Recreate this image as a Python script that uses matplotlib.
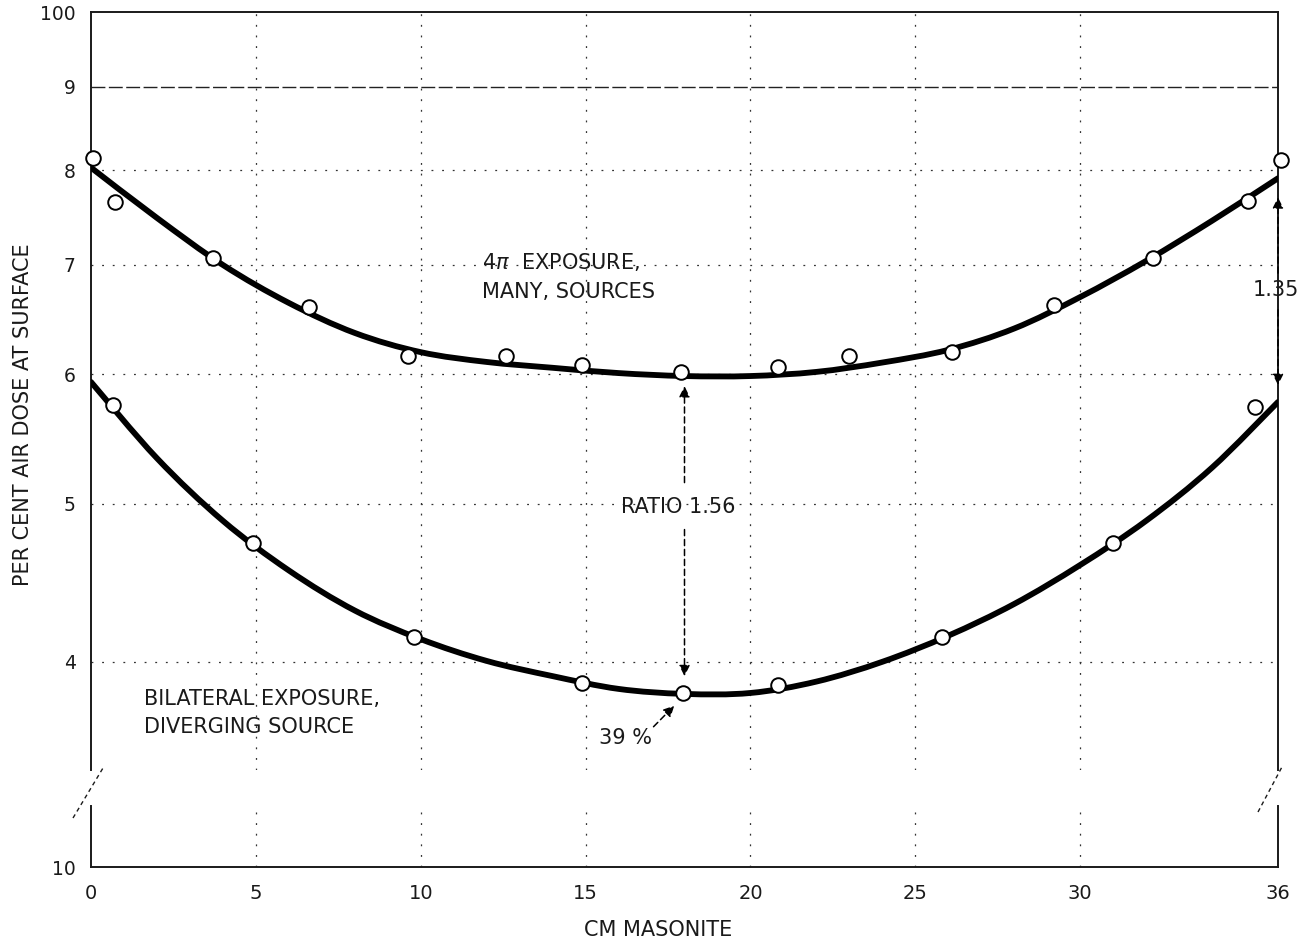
import numpy as np
import matplotlib
matplotlib.use("Agg")
import matplotlib.pyplot as plt
from matplotlib.ticker import FixedLocator, NullLocator, FixedFormatter
from matplotlib.lines import Line2D
from matplotlib.path import Path
from matplotlib.patches import PathPatch

# ---------------- data ----------------
# fitted curves (cm masonite vs per cent air dose)
curve_x = [0, 2, 4, 6, 8, 10, 12, 14, 16, 18, 20, 22, 24, 26, 28, 30, 32, 34, 36]
curve_4pi = [80.3, 74.8, 70.0, 66.35, 63.6, 61.9, 61.05, 60.55, 60.1, 59.85,
             59.85, 60.2, 61.0, 62.1, 64.0, 66.9, 70.4, 74.5, 79.1]
curve_bilat = [59.35, 53.3, 48.8, 45.5, 43.0, 41.3, 40.05, 39.2, 38.5, 38.23,
               38.28, 38.9, 40.0, 41.5, 43.4, 45.85, 48.8, 52.6, 57.7]

# measured points
pts_4pi_x = [0.06, 0.73, 3.7, 6.6, 9.6, 12.6, 14.9, 17.9, 20.85, 23.0,
             26.1, 29.2, 32.2, 35.1, 36.1]
pts_4pi_y = [81.4, 76.5, 70.7, 66.0, 61.6, 61.6, 60.8, 60.2, 60.6, 61.6,
             61.9, 66.2, 70.7, 76.6, 81.2]
pts_bilat_x = [0.67, 4.9, 9.8, 14.9, 17.94, 20.85, 25.8, 31.0, 35.3]
pts_bilat_y = [57.45, 47.3, 41.4, 38.8, 38.3, 38.7, 41.4, 47.3, 57.3]

x_ticks = [0, 5, 10, 15, 20, 25, 30, 36]
x_tick_labels = ["0", "5", "10", "15", "20", "25", "30", "36"]
y_ticks = [40, 50, 60, 70, 80, 90, 100]
y_tick_labels = ["4", "5", "6", "7", "8", "9", "100"]
y_low_ticks = [10]
y_low_labels = ["10"]

# ---------------- figure ----------------
W, H = 1302, 947
fig = plt.figure(figsize=(W / 100, H / 100), dpi=100)
ink = "#1a1a1a"
fs = 15

left = 91 / W
width = (1278 - 91) / W
ax = fig.add_axes([left, 1 - 770 / H, width, (770 - 12) / H])
axl = fig.add_axes([left, 1 - 867 / H, width, (867 - 806) / H], sharex=ax)

ax.set_yscale("log")
axl.set_yscale("log")
ax.set_xlim(0, 36)
ax.set_ylim(34.34, 100)
axl.set_ylim(10, 10.9)

for a in (ax, axl):
    for s in a.spines.values():
        s.set_linewidth(1.4)
        s.set_color(ink)
ax.spines["bottom"].set_visible(False)
axl.spines["top"].set_visible(False)

# ticks
ax.yaxis.set_major_locator(FixedLocator(y_ticks))
ax.yaxis.set_major_formatter(FixedFormatter(y_tick_labels))
ax.yaxis.set_minor_locator(NullLocator())
axl.yaxis.set_major_locator(FixedLocator(y_low_ticks))
axl.yaxis.set_major_formatter(FixedFormatter(y_low_labels))
axl.yaxis.set_minor_locator(NullLocator())
axl.xaxis.set_major_locator(FixedLocator(x_ticks))
axl.xaxis.set_major_formatter(FixedFormatter(x_tick_labels))
axl.xaxis.set_minor_locator(NullLocator())

ax.tick_params(axis="x", which="both", bottom=False, labelbottom=False, length=0)
ax.tick_params(axis="y", length=0, pad=11, labelsize=13.5, colors=ink)
axl.tick_params(axis="y", length=0, pad=11, labelsize=13.5, colors=ink)
axl.tick_params(axis="x", length=0, pad=12, labelsize=14, colors=ink)

# grid lines
grid_x = [5, 10, 15, 20, 25, 30]
for a in (ax, axl):
    for gx in grid_x:
        a.axvline(gx, color="#333333", lw=0.9, ls=(0, (1.5, 7)), zorder=1)
for gy in y_ticks[:-1]:
    if gy == 90:
        ax.axhline(gy, color="#222222", lw=1.0, ls=(0, (10, 2.5)), zorder=1)
    else:
        ax.axhline(gy, color="#333333", lw=0.9, ls=(0, (1.5, 7)), zorder=1)


# smooth drawn curve through the read points (Bezier path, in x / log-y space)
def smooth_curve(a, xs, ys):
    xs = np.asarray(xs, float)
    ly = np.log10(np.asarray(ys, float))
    P = np.column_stack([xs, ly])
    n = len(P)
    verts = [P[0]]
    codes = [Path.MOVETO]
    for i in range(n - 1):
        p_prev = P[i - 1] if i > 0 else P[i]
        p_next2 = P[i + 2] if i + 2 < n else P[i + 1]
        c1 = P[i] + (P[i + 1] - p_prev) / 6.0
        c2 = P[i + 1] - (p_next2 - P[i]) / 6.0
        verts += [c1, c2, P[i + 1]]
        codes += [Path.CURVE4] * 3
    V = np.array(verts)
    V[:, 1] = 10 ** V[:, 1]
    patch = PathPatch(Path(V, codes), facecolor="none", edgecolor="black",
                      lw=4.2, capstyle="round", joinstyle="round", zorder=3)
    a.add_patch(patch)


smooth_curve(ax, curve_x, curve_4pi)
smooth_curve(ax, curve_x, curve_bilat)

ax.plot(pts_4pi_x, pts_4pi_y, "o", ms=10.5, mfc="white", mec="black", mew=1.4,
        zorder=4, clip_on=False)
ax.plot(pts_bilat_x, pts_bilat_y, "o", ms=10.5, mfc="white", mec="black", mew=1.4,
        zorder=4, clip_on=False)

# annotations
arrow_kw = dict(arrowstyle="-|>", color="black", lw=1.1, ls=(0, (4, 2.5)),
                mutation_scale=16, shrinkA=0, shrinkB=0)
ax.annotate("", xy=(18.0, 59.0), xytext=(18.0, 51.5), arrowprops=arrow_kw)
ax.annotate("", xy=(18.0, 39.2), xytext=(18.0, 48.2), arrowprops=arrow_kw)
ax.text(17.8, 49.76, "RATIO 1.56", ha="center", va="center", fontsize=fs, color=ink)

ax.annotate("", xy=(36.0, 77.0), xytext=(36.0, 69.2), arrowprops=arrow_kw,
            annotation_clip=False)
ax.annotate("", xy=(36.0, 59.1), xytext=(36.0, 65.7), arrowprops=arrow_kw,
            annotation_clip=False)
ax.text(35.95, 67.57, "1.35", ha="center", va="center", fontsize=fs, color=ink,
        clip_on=False)

ax.annotate("", xy=(17.69, 37.6), xytext=(17.06, 36.5), arrowprops=arrow_kw)
ax.text(16.2, 35.9, "39 %", ha="center", va="center", fontsize=fs, color=ink)

ax.text(11.87, 68.83, "4$\\pi$  EXPOSURE,\nMANY, SOURCES", ha="left", va="center",
        fontsize=fs, color=ink, linespacing=1.55)
ax.text(1.6, 37.21, "BILATERAL EXPOSURE,\nDIVERGING SOURCE", ha="left", va="center",
        fontsize=fs, color=ink, linespacing=1.55)

# axis labels
fig.text(23 / W, 1 - 415 / H, "PER CENT AIR DOSE AT SURFACE", rotation=90,
         ha="center", va="center", fontsize=fs, color=ink)
fig.text(658 / W, 1 - 930 / H, "CM MASONITE", ha="center", va="center",
         fontsize=fs, color=ink)


# axis break marks
def fig_line(p0, p1):
    fig.add_artist(Line2D([p0[0] / W, p1[0] / W], [1 - p0[1] / H, 1 - p1[1] / H],
                          transform=fig.transFigure, color=ink, lw=1.0,
                          ls=(0, (3, 2.5))))


fig_line((73, 818), (103, 768))
fig_line((1258, 812), (1283, 765))

fig.savefig("out.png", dpi=100, facecolor="white")
